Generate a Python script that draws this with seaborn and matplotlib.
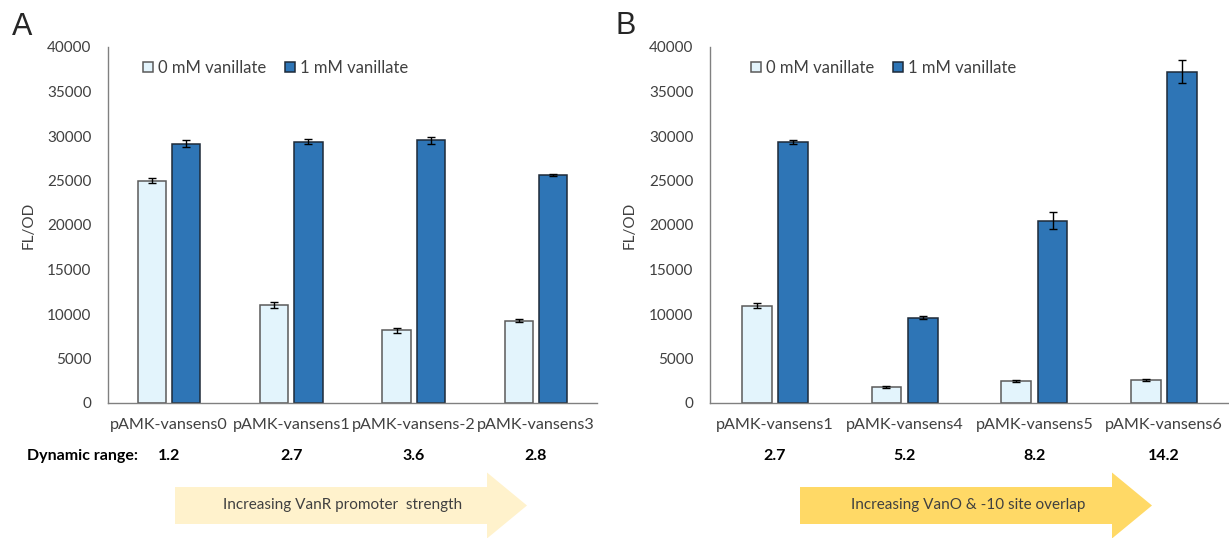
import numpy as np
import pandas as pd
import matplotlib
matplotlib.use("Agg")
import matplotlib.pyplot as plt
import seaborn as sns
from matplotlib.patches import FancyArrow
from matplotlib.transforms import blended_transform_factory

# Data
conditions = ["0 mM vanillate", "1 mM vanillate"]

a_strains = ["pAMK-vansens0", "pAMK-vansens1", "pAMK-vansens-2", "pAMK-vansens3"]
a_0mm = [25000, 11000, 8150, 9250]
a_0mm_err = [300, 300, 300, 200]
a_1mm = [29150, 29350, 29500, 25600]
a_1mm_err = [350, 300, 350, 100]
a_range = ["1.2", "2.7", "3.6", "2.8"]

b_strains = ["pAMK-vansens1", "pAMK-vansens4", "pAMK-vansens5", "pAMK-vansens6"]
b_0mm = [10950, 1800, 2450, 2580]
b_0mm_err = [300, 120, 80, 100]
b_1mm = [29350, 9600, 20500, 37200]
b_1mm_err = [250, 200, 1000, 1300]
b_range = ["2.7", "5.2", "8.2", "14.2"]

light_blue = "#E3F4FC"
dark_blue = "#2E75B6"
text_grey = "#404040"

sns.set_style("white")
plt.rcParams["font.family"] = ["Lato", "DejaVu Sans"]

W, H = 1229, 538
fig = plt.figure(figsize=(W / 100, H / 100), dpi=100)


def px_box(left, right, top, bottom):
    return [left / W, 1 - bottom / H, (right - left) / W, (bottom - top) / H]


def draw_panel(ax, strains, v0, e0, v1, e1, ranges, legend_x, ylabel_x):
    df = pd.DataFrame({
        "strain": strains * 2,
        "condition": [conditions[0]] * len(strains) + [conditions[1]] * len(strains),
        "value": list(v0) + list(v1),
    })
    sns.barplot(data=df, x="strain", y="value", hue="condition",
                order=strains, hue_order=conditions,
                palette=[light_blue, dark_blue], saturation=1,
                width=0.56, gap=0.18, errorbar=None, legend=False, ax=ax)

    edges = ["#5A5A5A", "#1E2A38"]
    errs = [e0, e1]
    for cont, ec, err in zip(ax.containers, edges, errs):
        for bar in cont:
            bar.set_edgecolor(ec)
            bar.set_linewidth(1.1)
        xs = [b.get_x() + b.get_width() / 2 for b in cont]
        ys = [b.get_height() for b in cont]
        ax.errorbar(xs, ys, yerr=err, fmt="none", ecolor="black",
                    elinewidth=1, capsize=3, capthick=1, zorder=5)

    ax.set_xlim(-0.5, 3.5)
    ax.set_ylim(0, 40000)
    ax.set_yticks(np.arange(0, 40001, 5000))
    ax.set_xlabel("")
    ax.set_ylabel("FL/OD", fontsize=11, color=text_grey)
    ax.yaxis.set_label_coords(ylabel_x, 0.5)
    ax.tick_params(axis="y", length=0, pad=12, labelsize=11, labelcolor=text_grey)
    ax.tick_params(axis="x", length=0, pad=11, labelsize=11.6, labelcolor=text_grey)
    sns.despine(ax=ax)
    for s in ["left", "bottom"]:
        ax.spines[s].set_color("#808080")
        ax.spines[s].set_linewidth(1)

    ax.legend(handles=list(ax.containers), labels=conditions, ncol=2,
              loc="center left", bbox_to_anchor=(legend_x, 0.941),
              frameon=False, fontsize=12, handlelength=0.6, handleheight=0.6,
              handletextpad=0.3, columnspacing=1.1, borderpad=0,
              borderaxespad=0, labelcolor=text_grey)

    tr = blended_transform_factory(ax.transData, fig.transFigure)
    for i, r in enumerate(ranges):
        ax.text(i, 1 - 456 / H, r, transform=tr, ha="center", va="center",
                fontsize=11.5, fontweight="bold", color="black")


ax_a = fig.add_axes(px_box(108, 597, 47, 403))
ax_b = fig.add_axes(px_box(710, 1229, 47, 403))

draw_panel(ax_a, a_strains, a_0mm, a_0mm_err, a_1mm, a_1mm_err, a_range, 0.072, -0.149)
draw_panel(ax_b, b_strains, b_0mm, b_0mm_err, b_1mm, b_1mm_err, b_range, 0.079, -0.142)

fig.text(138 / W, 1 - 456 / H, "Dynamic range:", ha="right", va="center",
         fontsize=11.5, fontweight="bold", color="black")

# Panel letters
fig.text(12 / W, 1 - 35 / H, "A", fontsize=22, family="Liberation Sans", va="baseline")
fig.text(615 / W, 1 - 34 / H, "B", fontsize=22, family="Liberation Sans", va="baseline")

# Arrows below the panels (pixel-coordinate overlay)
ov = fig.add_axes([0, 0, 1, 1], zorder=-1)
ov.set_xlim(0, W)
ov.set_ylim(H, 0)
ov.axis("off")
ov.patch.set_alpha(0)
ov.add_patch(FancyArrow(175, 505.5, 352, 0, width=37, head_width=66, head_length=40,
                        length_includes_head=True, color="#FFF2CC", lw=0))
ov.add_patch(FancyArrow(800, 505.5, 352, 0, width=37, head_width=66, head_length=40,
                        length_includes_head=True, color="#FFD966", lw=0))
ov.text(343, 505, "Increasing VanR promoter  strength", ha="center", va="center",
        fontsize=11, color=text_grey)
ov.text(968, 505, "Increasing VanO & -10 site overlap", ha="center", va="center",
        fontsize=11, color=text_grey)

fig.savefig("out.png", dpi=100)
